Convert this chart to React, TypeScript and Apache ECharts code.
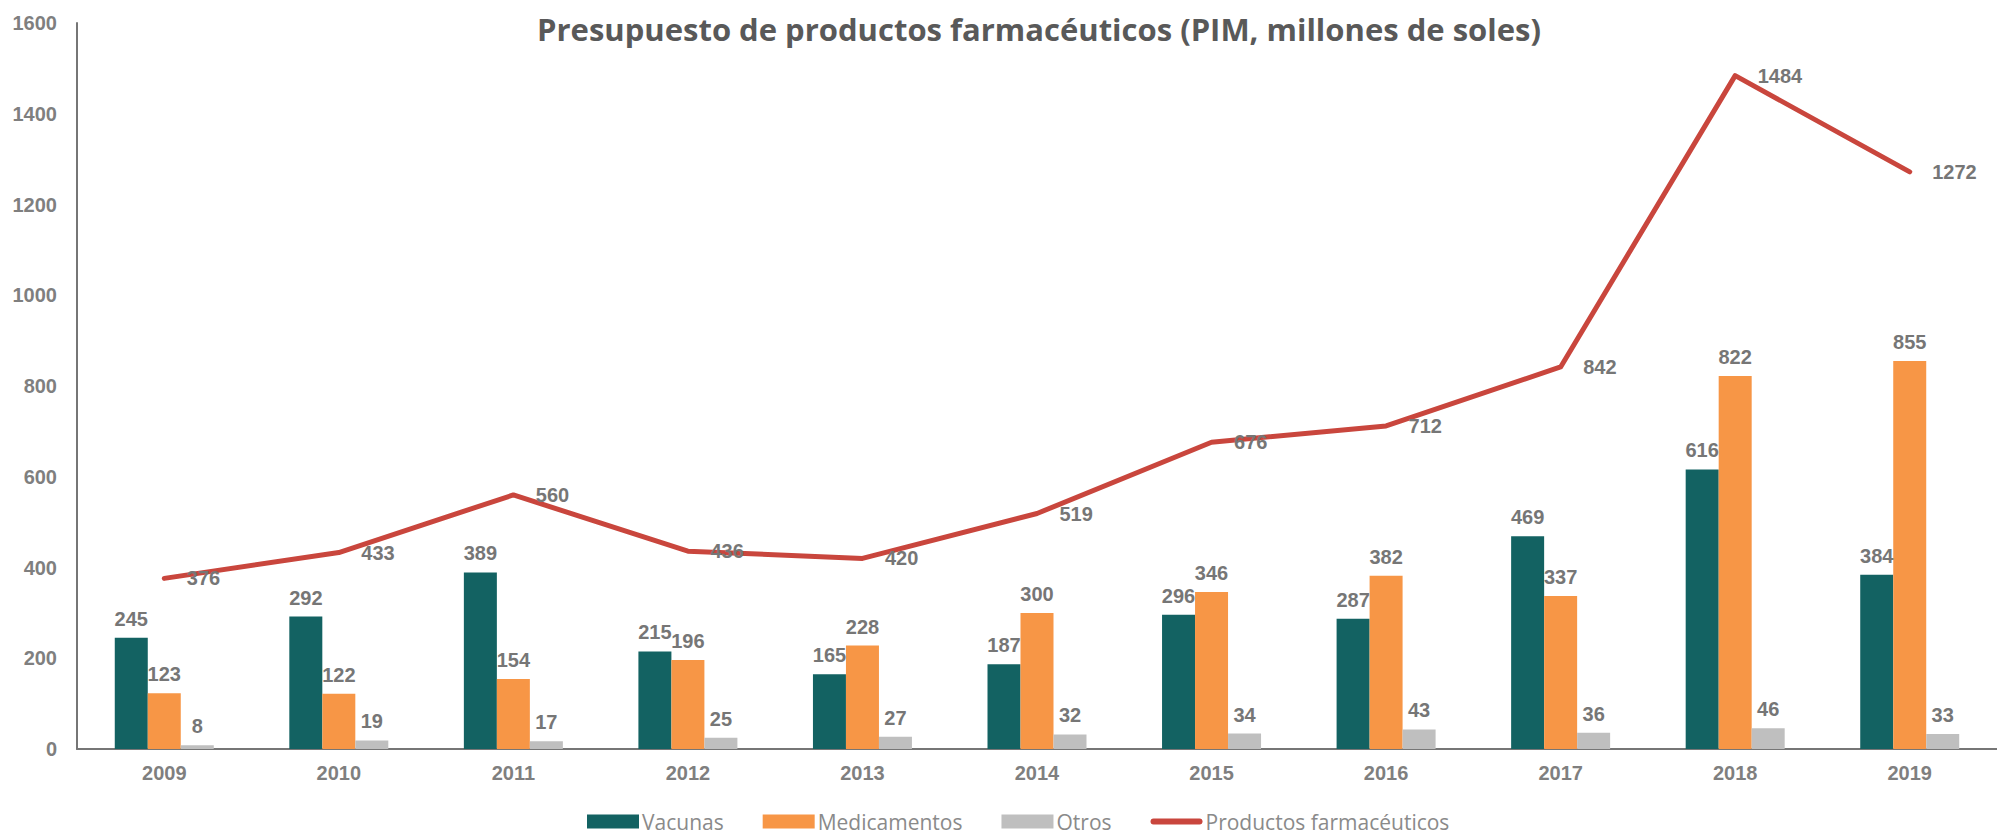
import React, { useEffect, useRef } from "react";
import * as echarts from "echarts";

const years = ["2009", "2010", "2011", "2012", "2013", "2014", "2015", "2016", "2017", "2018", "2019"];
const vacunas = [245, 292, 389, 215, 165, 187, 296, 287, 469, 616, 384];
const medicamentos = [123, 122, 154, 196, 228, 300, 346, 382, 337, 822, 855];
const otros = [8, 19, 17, 25, 27, 32, 34, 43, 36, 46, 33];
const productos = [376, 433, 560, 436, 420, 519, 676, 712, 842, 1484, 1272];

const numFont = "'Liberation Sans', Arial, sans-serif";
const txtFont = "'Open Sans', 'Noto Sans', sans-serif";
const labelGrey = "#767676";
const lineIcon = "path://M3,0 L49,0 A3,3 0 0 1 49,6 L3,6 A3,3 0 0 1 3,0 Z";

export default function App() {
  const ref = useRef<HTMLDivElement>(null);
  useEffect(() => {
    if (!ref.current) return;
    const chart = echarts.init(ref.current, undefined, { renderer: "svg" });
    const barLabel = {
      show: true,
      position: "top",
      distance: 9,
      color: labelGrey,
      fontFamily: numFont,
      fontWeight: "bold",
      fontSize: 20,
    };
    chart.setOption({
      animation: false,
      title: {
        text: "Presupuesto de productos farmacéuticos (PIM, millones de soles)",
        left: 1034,
        textAlign: "center",
        top: 8,
        textStyle: {
          fontFamily: txtFont,
          fontWeight: "bold",
          fontSize: 31,
          color: "#595959",
        },
      },
      legend: {
        bottom: 0,
        left: 582,
        itemWidth: 52,
        itemHeight: 14,
        itemGap: 39,
        textStyle: { fontFamily: txtFont, fontSize: 21, color: "#8a8a8a", padding: [0, 0, 0, -2] },
        data: [
          { name: "Vacunas", icon: "rect" },
          { name: "Medicamentos", icon: "rect" },
          { name: "Otros", icon: "rect" },
          { name: "Productos farmacéuticos", icon: lineIcon },
        ],
      },
      grid: { left: 77, right: 0, top: 23, bottom: 88, containLabel: false },
      xAxis: {
        type: "category",
        data: years,
        axisTick: { show: false },
        axisLine: { lineStyle: { color: "#767676", width: 2 } },
        axisLabel: {
          color: "#7f7f7f",
          fontFamily: numFont,
          fontWeight: "bold",
          fontSize: 20,
          margin: 14,
        },
      },
      yAxis: {
        type: "value",
        min: 0,
        max: 1600,
        interval: 200,
        splitLine: { show: false },
        axisTick: { show: false },
        axisLine: { show: true, lineStyle: { color: "#767676", width: 2 } },
        axisLabel: {
          color: "#7f7f7f",
          fontFamily: numFont,
          fontWeight: "bold",
          fontSize: 20,
          margin: 20,
          formatter: (v: number) => String(v),
        },
      },
      series: [
        {
          name: "Vacunas",
          type: "bar",
          data: vacunas,
          barWidth: 33,
          barGap: "0%",
          itemStyle: { color: "#136262" },
          label: barLabel,
        },
        {
          name: "Medicamentos",
          type: "bar",
          data: medicamentos,
          barWidth: 33,
          barGap: "0%",
          itemStyle: { color: "#F79646" },
          label: barLabel,
        },
        {
          name: "Otros",
          type: "bar",
          data: otros,
          barWidth: 33,
          barGap: "0%",
          itemStyle: { color: "#BFBFBF" },
          label: barLabel,
        },
        {
          name: "Productos farmacéuticos",
          type: "line",
          data: productos,
          symbol: "circle",
          symbolSize: 1,
          showSymbol: true,
          lineStyle: { color: "#C9463D", width: 5, cap: "round", join: "round" },
          itemStyle: { color: "#C9463D" },
          label: {
            show: true,
            position: "right",
            distance: 22,
            color: labelGrey,
            fontFamily: numFont,
            fontWeight: "bold",
            fontSize: 20,
          },
        },
      ],
    });
    return () => chart.dispose();
  }, []);
  return (
    <div
      ref={ref}
      style={{ position: "fixed", left: 0, top: 0, width: 1997, height: 837, background: "#fff" }}
    />
  );
}
